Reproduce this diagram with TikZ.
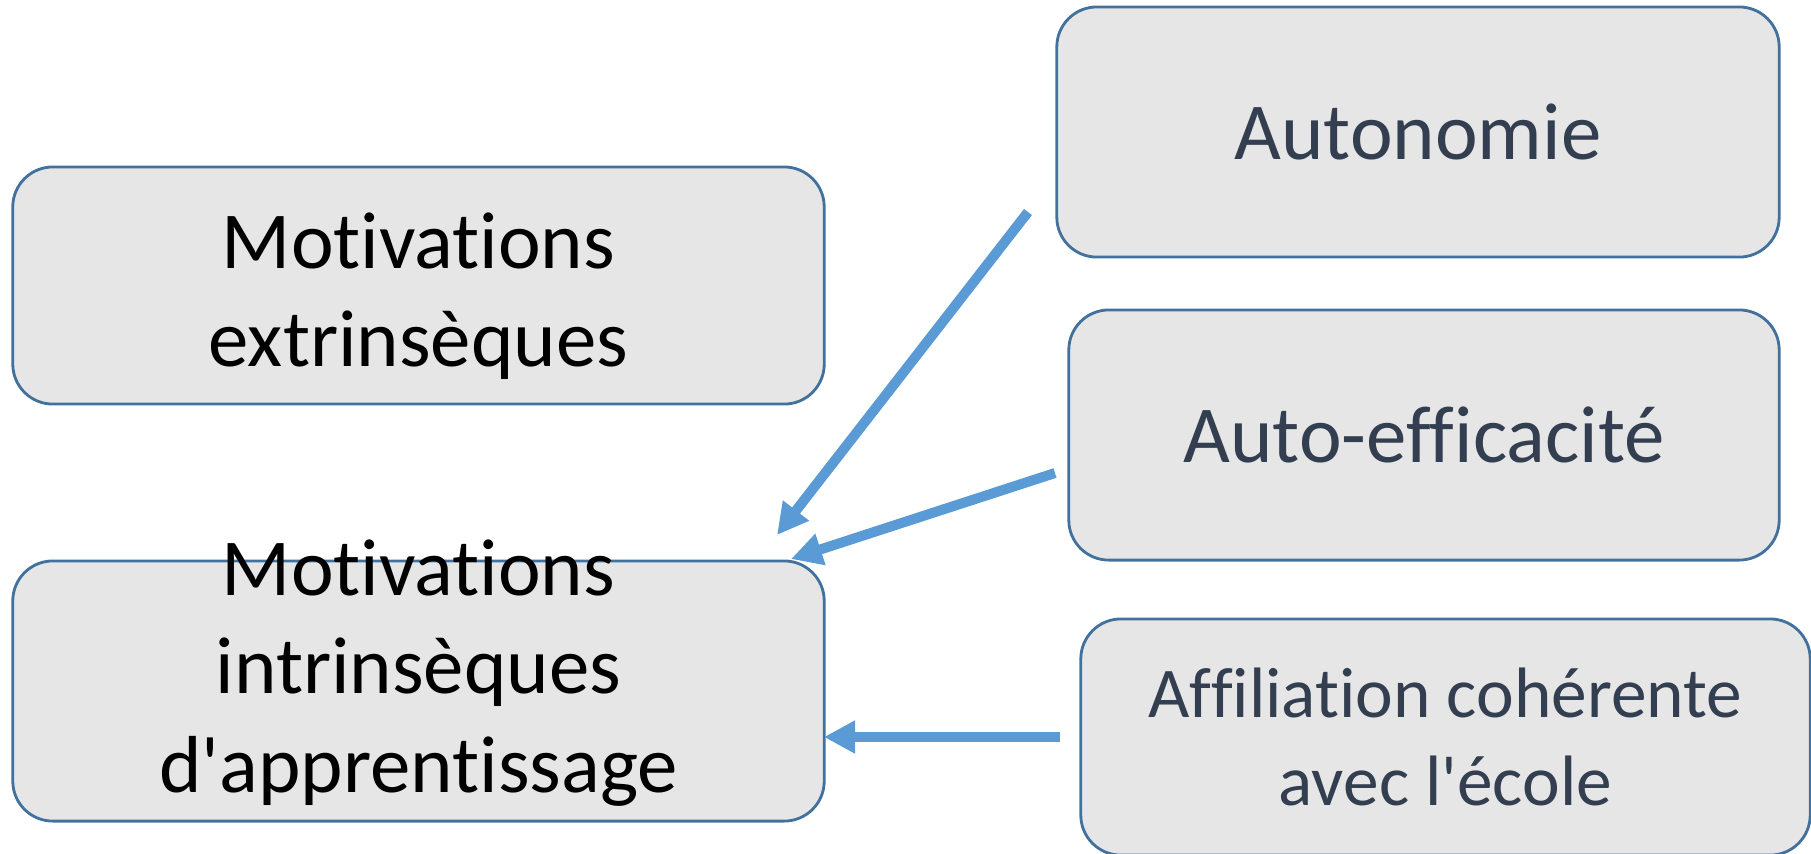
\documentclass[tikz,border=0pt]{standalone}
\usepackage{fontspec}
\setmainfont{Carlito}[Ligatures={TeXOff,NoCommon}]
\usetikzlibrary{arrows.meta}
\definecolor{bordo}{HTML}{41719C}
\definecolor{grigio}{HTML}{E6E6E6}
\definecolor{freccia}{HTML}{5B9BD5}
\definecolor{testo}{HTML}{333F50}
\newcommand{\grande}{\fontsize{23}{28}\selectfont}
\newcommand{\piccolo}{\fontsize{20.3}{25}\selectfont}
\begin{document}
\begin{tikzpicture}[x=0.01cm,y=-0.01cm,
  boite/.style={draw=bordo,line width=0.8pt,fill=grigio,rounded corners=0.4cm,inner sep=0pt,align=center},
  fleche/.style={draw=freccia,line width=0.1cm,-{Triangle[length=0.31cm,width=0.31cm]}}]
\useasboundingbox (0,0) rectangle (1811,853);
% motivations (a sinistra)
\node[boite,minimum width=8.11cm,minimum height=2.37cm] (extr) at (418.5,285.5) {};
\node[font=\grande,align=center,inner sep=0pt] (extrtxt) at (418.5,296) {Motivations\\extrinsèques};
\node[boite,minimum width=8.11cm,minimum height=2.60cm] (intr) at (418.5,691) {};
\node[font=\grande,align=center,inner sep=0pt] (intrtxt) at (418.5,673) {Motivations\\intrinsèques\\d'apprentissage};
% besoins (a destra)
\node[boite,minimum width=7.22cm,minimum height=2.50cm,font=\grande,text=testo] (auto) at (1418,132) {Autonomie};
\node[boite,minimum width=7.10cm,minimum height=2.50cm,font=\grande,text=testo] (effi) at (1424,435) {Auto-efficacité};
\node[boite,minimum width=7.29cm,minimum height=2.36cm,font=\piccolo,text=testo] (affi) at (1445.5,737) {Affiliation cohérente\\avec l'école};
% frecce
\coordinate (a1) at (1028,212); \coordinate (b1) at (777,535);
\coordinate (a2) at (1055,473); \coordinate (b2) at (791,559);
\coordinate (a3) at (1060,737); \coordinate (b3) at (824,737);
\draw[fleche] (a1) -- (b1);
\draw[fleche] (a2) -- (b2);
\draw[fleche] (a3) -- (b3);
\end{tikzpicture}
\end{document}
